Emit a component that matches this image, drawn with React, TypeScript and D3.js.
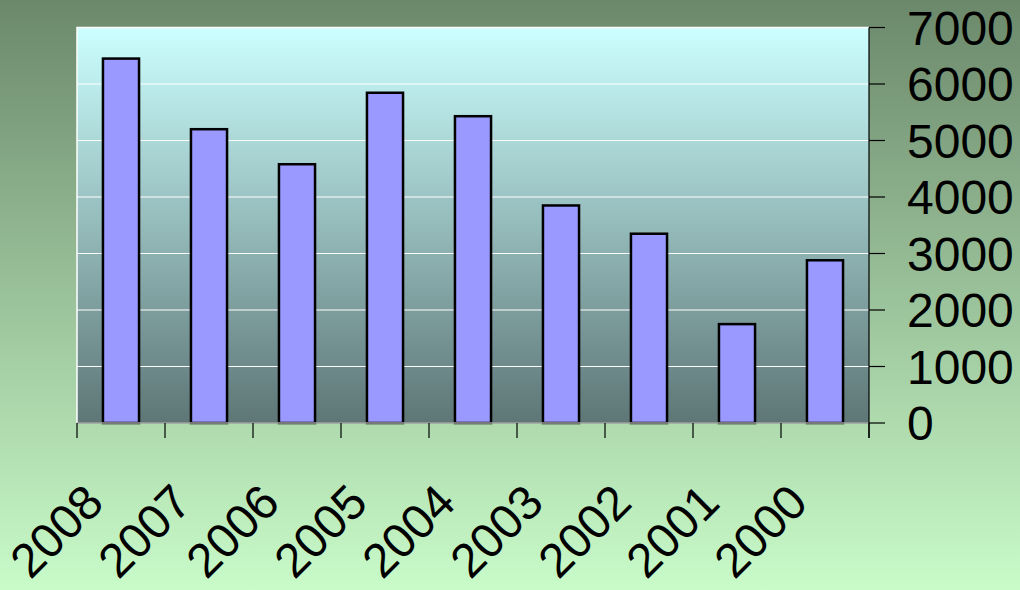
import { useEffect, useRef } from "react";
import * as d3 from "d3";

const WIDTH = 1020;
const HEIGHT = 590;
const MARGIN = { top: 27.5, right: 151, bottom: 167, left: 77 };

const years = ["2008", "2007", "2006", "2005", "2004", "2003", "2002", "2001", "2000"];
const values = [6450, 5200, 4580, 5845, 5430, 3850, 3350, 1750, 2880];
const yTicks = [0, 1000, 2000, 3000, 4000, 5000, 6000, 7000];

const FONT = "'Liberation Sans', Arial, sans-serif";

export default function App() {
  const ref = useRef<SVGSVGElement>(null);

  useEffect(() => {
    const svg = d3.select(ref.current);
    svg.selectAll("*").remove();

    const boundsWidth = WIDTH - MARGIN.left - MARGIN.right;
    const boundsHeight = HEIGHT - MARGIN.top - MARGIN.bottom;

    // gradients
    const defs = svg.append("defs");
    const bg = defs
      .append("linearGradient")
      .attr("id", "bgGrad")
      .attr("x1", 0)
      .attr("y1", 0)
      .attr("x2", 0)
      .attr("y2", 1);
    bg.append("stop").attr("offset", "0%").attr("stop-color", "#6b886b");
    bg.append("stop").attr("offset", "100%").attr("stop-color", "#c9fbc9");

    const plot = defs
      .append("linearGradient")
      .attr("id", "plotGrad")
      .attr("x1", 0)
      .attr("y1", 0)
      .attr("x2", 0)
      .attr("y2", 1);
    plot.append("stop").attr("offset", "0%").attr("stop-color", "#ccffff");
    plot.append("stop").attr("offset", "100%").attr("stop-color", "#5e7676");

    svg.append("rect").attr("width", WIDTH).attr("height", HEIGHT).attr("fill", "url(#bgGrad)");

    const g = svg.append("g").attr("transform", `translate(${MARGIN.left},${MARGIN.top})`);

    const xScale = d3.scaleBand().domain(years).range([0, boundsWidth]).paddingInner(0.59).paddingOuter(0.295);
    const yScale = d3.scaleLinear().domain([0, 7000]).range([boundsHeight, 0]);

    // plot area
    g.append("rect")
      .attr("width", boundsWidth)
      .attr("height", boundsHeight)
      .attr("fill", "url(#plotGrad)");

    // gridlines
    g.selectAll(".grid")
      .data(yTicks.filter((d) => d > 0))
      .join("line")
      .attr("x1", 0)
      .attr("x2", boundsWidth)
      .attr("y1", (d) => yScale(d))
      .attr("y2", (d) => yScale(d))
      .attr("stroke", "#ffffff")
      .attr("stroke-width", 1.2);

    // white edges left/top
    g.append("path")
      .attr("d", `M0,${boundsHeight} V0 H${boundsWidth}`)
      .attr("fill", "none")
      .attr("stroke", "#ffffff")
      .attr("stroke-width", 1.5);

    // bars
    g.selectAll(".bar")
      .data(values)
      .join("rect")
      .attr("x", (_, i) => xScale(years[i])!)
      .attr("width", xScale.bandwidth())
      .attr("y", (d) => yScale(d))
      .attr("height", (d) => boundsHeight - yScale(d))
      .attr("fill", "#9999ff")
      .attr("stroke", "#000000")
      .attr("stroke-width", 2.5);

    // bottom axis line
    g.append("line")
      .attr("x1", 0)
      .attr("x2", boundsWidth)
      .attr("y1", boundsHeight)
      .attr("y2", boundsHeight)
      .attr("stroke", "#a0a0a0")
      .attr("stroke-width", 1.5);

    // x ticks at category boundaries
    const step = boundsWidth / years.length;
    g.selectAll(".xtick")
      .data(d3.range(years.length + 1))
      .join("line")
      .attr("x1", (i) => i * step)
      .attr("x2", (i) => i * step)
      .attr("y1", boundsHeight)
      .attr("y2", boundsHeight + 15)
      .attr("stroke", "#000000")
      .attr("stroke-width", 1.2);

    // right axis
    g.append("line")
      .attr("x1", boundsWidth)
      .attr("x2", boundsWidth)
      .attr("y1", 0)
      .attr("y2", boundsHeight + 15)
      .attr("stroke", "#000000")
      .attr("stroke-width", 1.2);

    g.selectAll(".ytick")
      .data(yTicks)
      .join("line")
      .attr("x1", boundsWidth)
      .attr("x2", boundsWidth + 16)
      .attr("y1", (d) => yScale(d))
      .attr("y2", (d) => yScale(d))
      .attr("stroke", "#000000")
      .attr("stroke-width", 1.2);

    g.selectAll(".ylabel")
      .data(yTicks)
      .join("text")
      .attr("x", boundsWidth + 38)
      .attr("y", (d) => yScale(d))
      .attr("dy", "0.36em")
      .attr("font-family", FONT)
      .attr("font-size", 48)
      .attr("fill", "#000000")
      .text((d) => String(d));

    // x labels rotated
    g.selectAll(".xlabel")
      .data(years)
      .join("text")
      .attr("transform", (d) => `translate(${xScale(d)! + xScale.bandwidth() / 2 - 15},${boundsHeight + 82}) rotate(-45)`)
      .attr("text-anchor", "end")
      .attr("font-family", FONT)
      .attr("font-size", 48)
      .attr("fill", "#000000")
      .text((d) => d);
  }, []);

  return (
    <svg
      ref={ref}
      width={WIDTH}
      height={HEIGHT}
      style={{ display: "block", position: "absolute", left: 0, top: 0 }}
    />
  );
}
